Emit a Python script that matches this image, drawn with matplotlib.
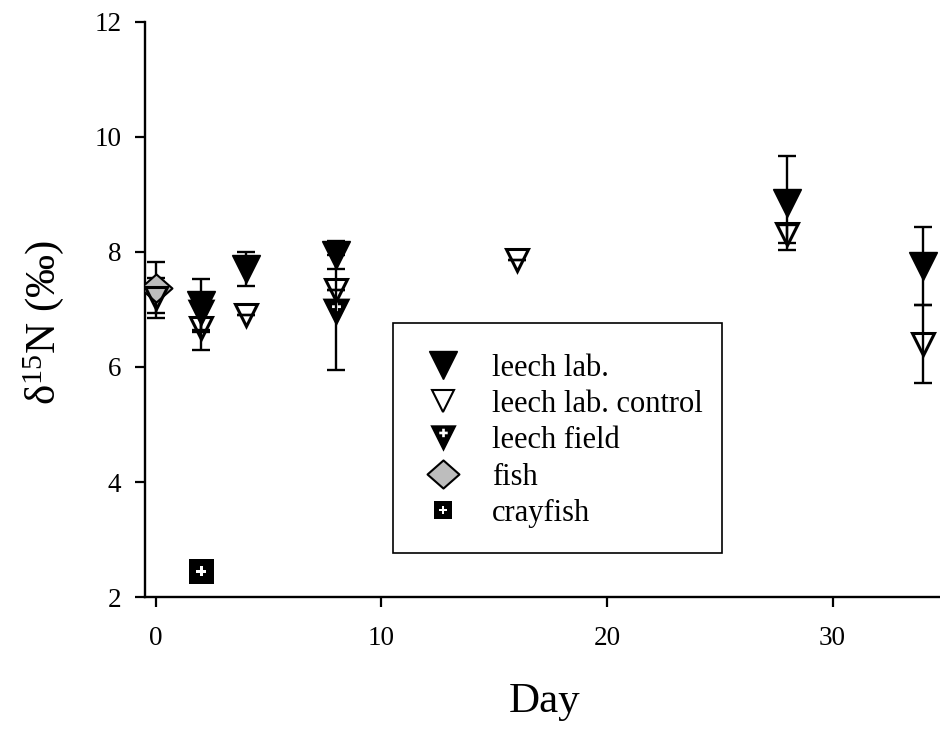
import numpy as np
import matplotlib.pyplot as plt
from matplotlib.path import Path
from matplotlib.lines import Line2D
from matplotlib.patches import Rectangle

plt.rcParams['font.family'] = ['Liberation Serif', 'DejaVu Serif']
plt.rcParams['mathtext.default'] = 'regular'

# ---------------- data ----------------
lab_day = [2, 4, 8, 28, 34]
lab_d15n = [7.07, 7.70, 7.95, 8.85, 7.75]
lab_err = [0.46, 0.30, 0.24, 0.82, 0.68]

ctrl_day = [0, 2, 4, 8, 16, 28, 34]
ctrl_d15n = [7.20, 6.68, 6.90, 7.33, 7.86, 8.31, 6.40]
ctrl_err = [0.35, 0.38, 0.0, 0.0, 0.0, 0.16, 0.68]

field_day = [2, 8]
field_d15n = [6.93, 6.95]
field_err = [0.29, 1.0]

fish_day = [0]
fish_d15n = [7.38]
fish_err = [0.45]

cray_day = [2]
cray_d15n = [2.45]


# markers with a white plus cut out
def plus_ring(cx, cy, a, w):
    # counter-clockwise so it becomes a hole
    pts = [(cx+w, cy-w), (cx+a, cy-w), (cx+a, cy+w), (cx+w, cy+w), (cx+w, cy+a),
           (cx-w, cy+a), (cx-w, cy+w), (cx-a, cy+w), (cx-a, cy-w), (cx-w, cy-w),
           (cx-w, cy-a), (cx+w, cy-a)]
    return pts

def holed(outer, inner):
    verts = outer + [outer[0]] + inner + [inner[0]]
    codes = ([Path.MOVETO] + [Path.LINETO]*(len(outer)-1) + [Path.CLOSEPOLY] +
             [Path.MOVETO] + [Path.LINETO]*(len(inner)-1) + [Path.CLOSEPOLY])
    return Path(verts, codes)

tri_plus = holed([(-1, 1), (0, -1), (1, 1)][::-1], plus_ring(0, 0.42, 0.32, 0.1))
sq_plus = holed([(-1, -1), (-1, 1), (1, 1), (1, -1)], plus_ring(0, 0, 0.42, 0.12))
diamond = Path([(-1, 0), (0, 0.88), (1, 0), (0, -0.88), (-1, 0)],
               [Path.MOVETO, Path.LINETO, Path.LINETO, Path.LINETO, Path.CLOSEPOLY])

fig = plt.figure(figsize=(9.4, 7.29), dpi=100)
ax = fig.add_axes([0.1543, 0.181, 0.8457, 0.789])

eb = dict(fmt='none', ecolor='k', elinewidth=1.7, capsize=6.5, capthick=1.7, zorder=2)
ax.errorbar(lab_day, lab_d15n, yerr=lab_err, **eb)
ax.errorbar(ctrl_day, ctrl_d15n, yerr=ctrl_err, **eb)
ax.errorbar(field_day, field_d15n, yerr=field_err, **eb)
ax.errorbar(fish_day, fish_d15n, yerr=fish_err, **eb)

ax.plot(lab_day, lab_d15n, 'v', ms=19.5, color='k', zorder=3)
ax.plot(fish_day, fish_d15n, marker=diamond, ls='none', ms=23, mfc='#bdbdbd',
        mec='k', mew=1.5, zorder=3)
ax.plot(ctrl_day, ctrl_d15n, 'v', ms=16.5, mfc='none', mec='k', mew=2.2, zorder=4)
ax.plot(field_day, field_d15n, marker=tri_plus, ls='none', ms=20, color='k', mew=0, zorder=5)
ax.plot(cray_day, cray_d15n, marker=sq_plus, ls='none', ms=18, color='k', mew=0, zorder=5)

ax.set_xlim(-0.47, 34.76)
ax.set_ylim(2, 12)
ax.set_xticks([0, 10, 20, 30])
ax.set_yticks([2, 4, 6, 8, 10, 12])
ax.spines['top'].set_visible(False)
ax.spines['right'].set_visible(False)
for s in ['left', 'bottom']:
    ax.spines[s].set_linewidth(1.7)
ax.tick_params(direction='out', length=7, width=1.6, labelsize=19.5)
ax.tick_params(axis='x', pad=14)
ax.tick_params(axis='y', pad=10)

ax.set_xlabel('Day', fontsize=31)
ax.xaxis.set_label_coords(0.503, -0.148)
ax.set_ylabel('δ$^{15}$N (‰)', fontsize=31)
ax.yaxis.set_label_coords(-0.1, 0.477)

handles = [
    Line2D([], [], ls='none', marker='v', ms=20, color='k'),
    Line2D([], [], ls='none', marker='v', ms=16, mfc='white', mec='k', mew=1.5),
    Line2D([], [], ls='none', marker=tri_plus, ms=19, color='k', mew=0),
    Line2D([], [], ls='none', marker=diamond, ms=23, mfc='#bdbdbd', mec='k', mew=1.5),
    Line2D([], [], ls='none', marker=sq_plus, ms=13, color='k', mew=0),
]
labels = ['leech lab.', 'leech lab. control', 'leech field', 'fish', 'crayfish']
ax.legend(handles, labels, loc='upper left', bbox_to_anchor=(0.312, 0.463),
          borderaxespad=0, fontsize=22, frameon=False, borderpad=0.75,
          handlelength=1.77, handletextpad=0.72, labelspacing=0.24)
# legend box outline
ax.add_patch(Rectangle((0.312, 0.0765), 0.4138, 0.4, transform=ax.transAxes,
                       fill=False, ec='k', lw=1.2, zorder=6))

fig.savefig('out.png', dpi=100)
